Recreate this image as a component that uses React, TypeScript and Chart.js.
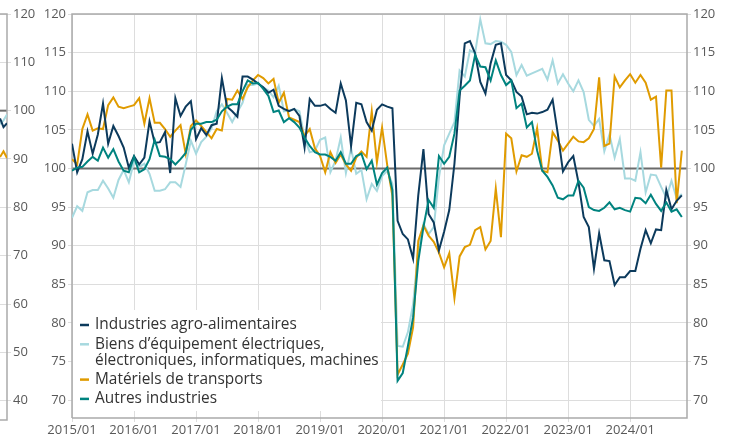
import React, { useEffect, useRef } from "react";
import { Chart, registerables } from "chart.js";

Chart.register(...registerables);

// ---------- DATA ----------
const yearTicks = [0, 12, 24, 36, 48, 60, 72, 84, 96, 108];
const yearLabels = ["2015/01", "2016/01", "2017/01", "2018/01", "2019/01", "2020/01", "2021/01", "2022/01", "2023/01", "2024/01"];
const yTicks = [70, 75, 80, 85, 90, 95, 100, 105, 110, 115, 120];

const seriesNames = [
  ["Industries agro-alimentaires"],
  ["Biens d’équipement électriques,", "électroniques, informatiques, machines"],
  ["Matériels de transports"],
  ["Autres industries"],
];

// monthly, 2015/01 .. 2024/11
const agro = [
  103.2, 99.5, 101.2, 104.8, 101.9, 104.4, 108.4, 103.2, 105.5, 104.2, 102.7, 100.1,
  101.6, 100.5, 101.4, 106.1, 103.3, 103.4, 104.7, 99.4, 109.1, 106.8, 108, 108.7,
  103.8, 105.2, 104.3, 105.6, 105.8, 111.7, 108, 107.4, 106.7, 111.9, 111.9, 111.5,
  111, 110.5, 109.8, 110.2, 108.1, 107.7, 107.4, 107.7, 106.8, 102.7, 109, 108.1,
  108.1, 108.3, 107.7, 107.2, 111, 108.8, 102.9, 108.5, 108.3, 106, 104.9, 107.6,
  108.3, 108, 107.8, 93.2, 91.5, 90.8, 88.3, 96.5, 102.5, 94.1, 93, 89.4,
  91.8, 94.6, 100.6, 109.3, 116.2, 116.5, 114.9, 111.2, 109.7, 113.6, 116, 116.2,
  112.1, 111.4, 109.9, 109.3, 107, 107.2, 107.1, 107.3, 107.6, 108.9, 104.5, 99.6,
  100.8, 101.6, 98.2, 93.7, 92.4, 87, 91.6, 88.1, 88, 84.9, 85.9, 85.9,
  86.7, 86.7, 89.6, 92, 90.3, 92.1, 92, 97.2, 94.7, 95.8, 96.5,
];
const biens = [
  93.6, 95.1, 94.5, 96.9, 97.2, 97.2, 98.4, 97.4, 96.2, 98.5, 99.8, 98.2,
  100.9, 100.2, 100.6, 99.3, 97.1, 97.1, 97.3, 98.2, 98.2, 97.6, 100.5, 103.6,
  101.9, 103.4, 104.1, 105.2, 107.4, 108.3, 107.2, 106, 107.3, 108.5, 110.8, 110.8,
  111, 110.5, 110.1, 109.2, 110.7, 107.4, 107.5, 107.7, 107.4, 103.9, 102.1, 102.3,
  103.7, 104, 99.5, 101, 104, 99.4, 102.6, 99.3, 99.8, 96, 98, 97.1,
  99, 99.7, 98, 77, 76.9, 78.8, 82.4, 89.5, 92.8, 91.5, 92.4, 98.8,
  103, 104.5, 106, 112.7, 111.9, 115.3, 114.9, 119.3, 116.2, 116.1, 116.5, 116.4,
  116, 115.1, 112.1, 113.4, 112, 112.3, 112.6, 112.9, 111.5, 114, 111, 112.2,
  111, 110, 111.4, 109.9, 106.3, 105.5, 106.4, 102.2, 104.4, 101.4, 103.8, 98.7,
  98.7, 98.4, 102.1, 96.9, 99.2, 99.1, 97.6, 96.2, 98.4, 96.1, 96.7,
];
const transports = [
  101.2, 100.5, 105.1, 107, 104.9, 105.2, 105.1, 108.2, 109.2, 108, 107.8, 108,
  108.2, 109.1, 105.8, 109.1, 105.9, 105.9, 105.1, 104.1, 104.9, 105.6, 101.9, 105.5,
  106.2, 105.5, 104.7, 103.9, 105.1, 104.9, 109, 108.9, 110.1, 109, 110.5, 111.4,
  112.1, 111.7, 111, 111.6, 108.5, 109.8, 106.6, 106.3, 106, 104.2, 105.1, 102.6,
  101.6, 99.5, 102.1, 100.7, 101.8, 100.5, 99.7, 101.4, 102.2, 101.5, 107.4, 100.8,
  105.3, 100.4, 96.4, 73.3, 74.6, 76, 79.4, 90.6, 92.6, 91.3, 90.5, 89.1,
  87.2, 89, 83.2, 88.6, 89.8, 90.1, 92, 92.4, 89.5, 90.6, 97.4, 91.1,
  104.5, 103.9, 99.6, 101.7, 101.5, 101.9, 105.2, 99.7, 99.5, 104.7, 103.6, 102.3,
  103.2, 104.1, 103.5, 103.4, 103.9, 105.1, 111.8, 102.9, 103.2, 111.9, 110.5, 111.4,
  112.2, 111.1, 112.1, 111.1, 108.9, 109.3, 100.1, 110.1, 110.1, 95.5, 102.3,
];
const autres = [
  99.7, 100.1, 100.2, 100.9, 101.5, 101, 102.7, 101.4, 102.5, 100.9, 99.7, 99.5,
  101.5, 99.5, 99.9, 101.2, 103.7, 101.6, 101.5, 101.2, 100.5, 101.2, 102, 105,
  105.8, 105.8, 106, 106, 106.3, 107.4, 108, 108.3, 108.3, 110, 111.4, 111,
  111.1, 110.3, 109.4, 107.3, 107.5, 106, 106.5, 106, 105.3, 104, 102.9, 102.1,
  101.8, 101.8, 101.5, 101, 102.1, 100.6, 100.6, 101.6, 101.9, 99.9, 101, 97.9,
  99.4, 100.1, 97.2, 72.5, 73.5, 77, 80.7, 88, 92.4, 95.9, 94.9, 101.6,
  100.6, 101.5, 104.5, 110.1, 110.7, 111.4, 114.7, 113.2, 113.1, 111.4, 114, 112.1,
  110.8, 111.4, 107.8, 108.4, 105.3, 106, 102.3, 99.7, 98.9, 97.8, 96.2, 96,
  96.5, 96.5, 98.4, 97.5, 95, 94.6, 94.5, 94.9, 95.6, 94.7, 94.9, 94.6,
  94.4, 96.2, 96.1, 95.5, 96.6, 95.4, 94.5, 95.6, 94.4, 94.7, 93.7,
];

// cropped neighbouring chart visible at the left edge
const stripTicks = [40, 50, 60, 70, 80, 90, 100, 110, 120];
const stripAgro = [98.4, 96.6, 97.4];
const stripBiens = [97.2, 98.0, 99.2];
const stripTransports = [90.4, 91.6, 90.2];

// ---------- STYLE ----------
const COLORS = ["#0c3a5c", "#a7d9df", "#e09b00", "#00837f"];
const FONT = '"Open Sans", "Noto Sans", sans-serif';
const GRID = "#dddddd";
const FRAME = "#aaaaaa";
const TICK_TEXT = "#595959";

const toPoints = (arr: number[]) => arr.map((v, i) => ({ x: i, y: v }));

const refLineAndFrame = (sides: { left: boolean }) => ({
  id: "refLineAndFrame",
  beforeDatasetsDraw(chart: any) {
    const { ctx, chartArea: a } = chart;
    const ys = chart.scales.y;
    const y100 = ys.getPixelForValue(100);
    ctx.save();
    ctx.strokeStyle = "#6b6b6b";
    ctx.lineWidth = 2;
    ctx.beginPath();
    ctx.moveTo(a.left, y100);
    ctx.lineTo(a.right, y100);
    ctx.stroke();
    ctx.strokeStyle = FRAME;
    ctx.lineWidth = 1.5;
    ctx.beginPath();
    if (sides.left) {
      ctx.moveTo(a.left, a.bottom);
      ctx.lineTo(a.left, a.top);
    } else {
      ctx.moveTo(a.left - 2, a.top);
    }
    ctx.lineTo(a.right, a.top);
    ctx.lineTo(a.right, a.bottom);
    ctx.lineTo(sides.left ? a.left : a.left - 2, a.bottom);
    ctx.stroke();
    ctx.restore();
  },
});

const legendPlugin = {
  id: "boxLegend",
  beforeDatasetsDraw(chart: any) {
    const { ctx, chartArea: a } = chart;
    const boxTop = 310;
    const boxBottom = 411;
    ctx.save();
    ctx.fillStyle = "#ffffff";
    ctx.fillRect(a.left + 1, boxTop, 380 - 38 - a.left, boxBottom - boxTop);
    ctx.font = `15.4px ${FONT}`;
    ctx.textBaseline = "middle";
    ctx.textAlign = "left";
    let y = 325;
    seriesNames.forEach((lines, i) => {
      ctx.strokeStyle = COLORS[i];
      ctx.lineWidth = 2.5;
      ctx.beginPath();
      ctx.moveTo(a.left + 8, y);
      ctx.lineTo(a.left + 17, y);
      ctx.stroke();
      ctx.fillStyle = "#333333";
      lines.forEach((t, j) => {
        ctx.fillText(t, a.left + 23, y + j * 16);
      });
      y += 19.3 + (lines.length - 1) * 16;
    });
    ctx.restore();
  },
};

export default function App() {
  const mainRef = useRef<HTMLCanvasElement | null>(null);
  const stripRef = useRef<HTMLCanvasElement | null>(null);

  useEffect(() => {
    document.body.style.margin = "0";
    const tickFont = { family: FONT, size: 13 };
    const yAxis = (position: "left" | "right", width: number, drawGrid: boolean) => ({
      type: "linear" as const,
      position,
      min: 67.67,
      max: 120,
      afterBuildTicks: (s: any) => {
        s.ticks = yTicks.map((v) => ({ value: v }));
      },
      afterFit: (s: any) => {
        s.width = width;
      },
      ticks: { font: tickFont, color: TICK_TEXT, padding: 2 },
      grid: { color: GRID, lineWidth: 1, tickLength: 4, drawOnChartArea: drawGrid },
      border: { display: false },
    });

    const main = new Chart(mainRef.current as HTMLCanvasElement, {
      type: "line",
      data: {
        datasets: [agro, biens, transports, autres].map((arr, i) => ({
          label: seriesNames[i].join(" "),
          data: toPoints(arr),
          borderColor: COLORS[i],
          borderWidth: 2,
          pointRadius: 0,
          tension: 0,
          yAxisID: "y",
          order: [1, 3, 2, 0][i],
        })),
      },
      options: {
        animation: false,
        responsive: false,
        maintainAspectRatio: false,
        layout: { padding: { top: 14, left: 0, right: 0, bottom: 0 } },
        plugins: { legend: { display: false }, tooltip: { enabled: false } },
        scales: {
          x: {
            type: "linear",
            min: 0,
            max: 119,
            afterBuildTicks: (s: any) => {
              s.ticks = yearTicks.map((v) => ({ value: v }));
            },
            afterFit: (s: any) => {
              s.height = 23;
            },
            ticks: {
              font: tickFont,
              color: TICK_TEXT,
              padding: 0,
              maxRotation: 0,
              autoSkip: false,
              callback: (v: any) => yearLabels[yearTicks.indexOf(Number(v))] ?? "",
            },
            grid: { color: GRID, lineWidth: 1, tickLength: 4 },
            border: { display: false },
          },
          y: yAxis("left", 34, true) as any,
          y2: yAxis("right", 47, false) as any,
        },
      },
      plugins: [refLineAndFrame({ left: true }), legendPlugin],
    });

    const strip = new Chart(stripRef.current as HTMLCanvasElement, {
      type: "line",
      data: {
        datasets: [stripAgro, stripBiens, stripTransports].map((arr, i) => ({
          label: seriesNames[i].join(" "),
          data: toPoints(arr),
          borderColor: COLORS[i],
          borderWidth: 2,
          pointRadius: 0,
          tension: 0,
        })),
      },
      options: {
        animation: false,
        responsive: false,
        maintainAspectRatio: false,
        layout: { padding: { top: 14, left: 0, right: 0, bottom: 21 } },
        plugins: { legend: { display: false }, tooltip: { enabled: false } },
        scales: {
          x: { type: "linear", min: 0, max: 2, display: false },
          y: {
            type: "linear",
            position: "right",
            min: 36,
            max: 120,
            afterBuildTicks: (s: any) => {
              s.ticks = stripTicks.map((v) => ({ value: v }));
            },
            afterFit: (s: any) => {
              s.width = 31;
            },
            ticks: { font: tickFont, color: TICK_TEXT, padding: 2 },
            grid: { color: GRID, lineWidth: 1, tickLength: 4 },
            border: { display: false },
          },
        },
      },
      plugins: [refLineAndFrame({ left: false })],
    });

    return () => {
      main.destroy();
      strip.destroy();
    };
  }, []);

  return (
    <div style={{ position: "fixed", left: 0, top: 0, width: 734, height: 441, overflow: "hidden", background: "#fff" }}>
      <canvas ref={stripRef} width={38} height={441} style={{ position: "absolute", left: 0, top: 0, width: 38, height: 441 }} />
      <canvas ref={mainRef} width={696} height={441} style={{ position: "absolute", left: 38, top: 0, width: 696, height: 441 }} />
    </div>
  );
}
